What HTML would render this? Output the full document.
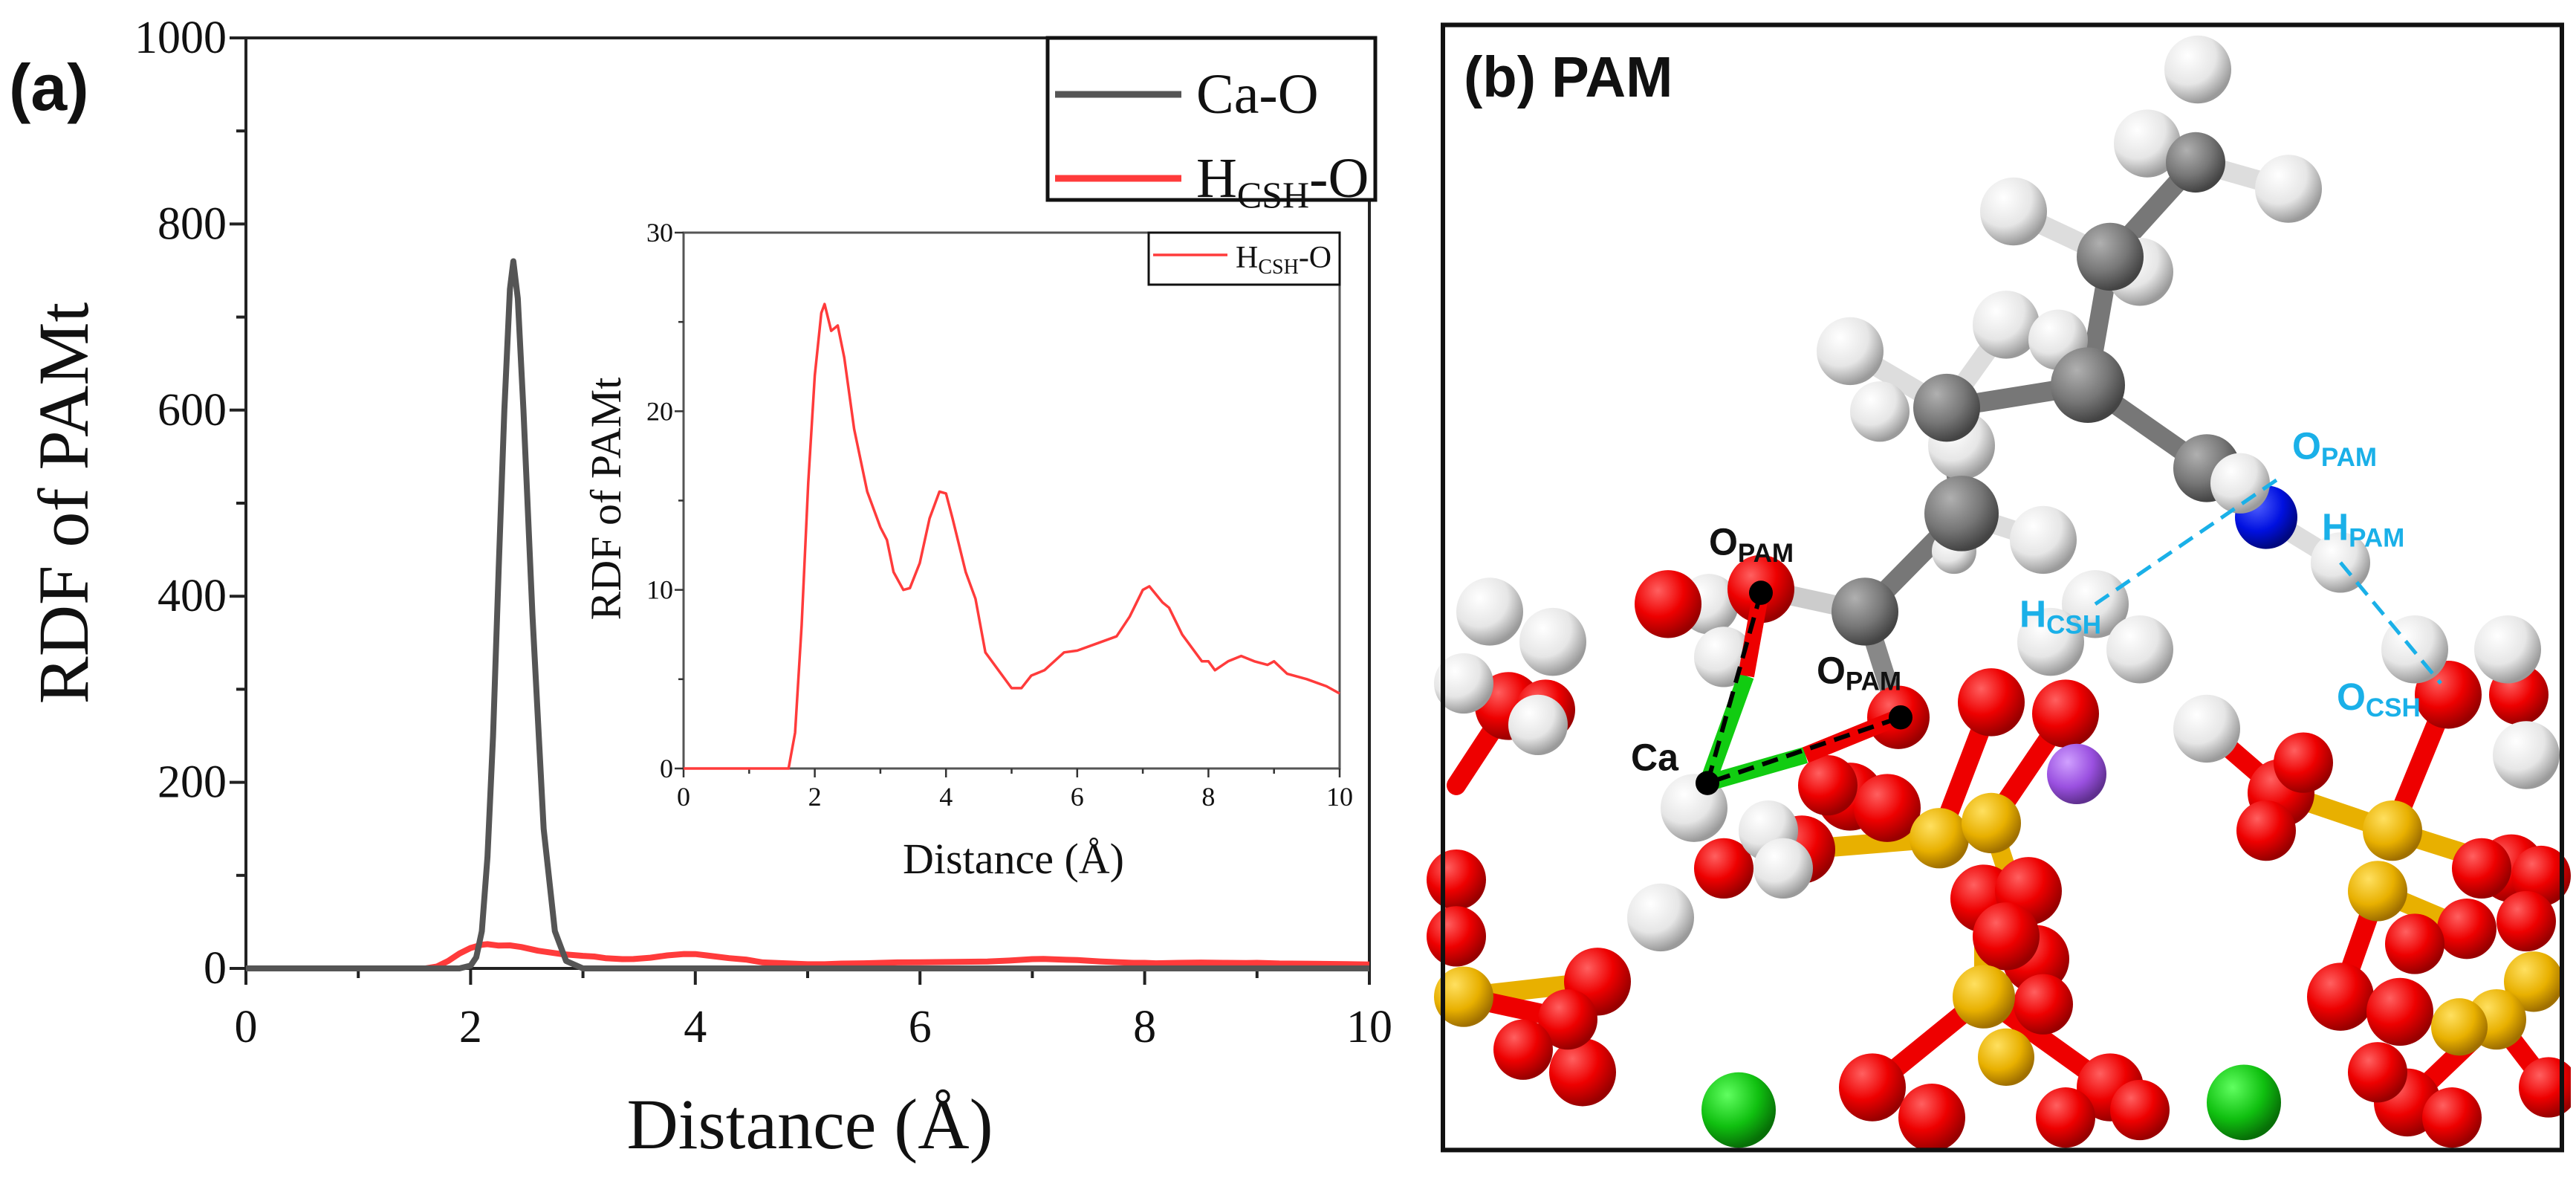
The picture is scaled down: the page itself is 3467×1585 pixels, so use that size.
<!DOCTYPE html>
<html><head><meta charset="utf-8"><style>
html,body{margin:0;padding:0;background:#fff}
svg{display:block}
.t{font-family:"Liberation Serif",serif;fill:#111}
.s{font-family:"Liberation Sans",sans-serif;font-weight:bold}
</style></head><body>
<svg id="fig" width="3467" height="1585" viewBox="0 0 3467 1585" xmlns="http://www.w3.org/2000/svg">
<defs>
<radialGradient id="gH" cx="35%" cy="30%" r="70%"><stop offset="0" stop-color="#ffffff"/><stop offset="0.6" stop-color="#e6e6e6"/><stop offset="1" stop-color="#9a9a9a"/></radialGradient>
<radialGradient id="gC" cx="35%" cy="30%" r="70%"><stop offset="0" stop-color="#b0b0b0"/><stop offset="0.6" stop-color="#777"/><stop offset="1" stop-color="#444"/></radialGradient>
<radialGradient id="gO" cx="35%" cy="30%" r="70%"><stop offset="0" stop-color="#ff6060"/><stop offset="0.55" stop-color="#ee0000"/><stop offset="1" stop-color="#990000"/></radialGradient>
<radialGradient id="gS" cx="35%" cy="30%" r="70%"><stop offset="0" stop-color="#ffe060"/><stop offset="0.6" stop-color="#e8b000"/><stop offset="1" stop-color="#a07000"/></radialGradient>
<radialGradient id="gG" cx="35%" cy="30%" r="70%"><stop offset="0" stop-color="#60ff60"/><stop offset="0.6" stop-color="#10c010"/><stop offset="1" stop-color="#077007"/></radialGradient>
<radialGradient id="gN" cx="35%" cy="30%" r="70%"><stop offset="0" stop-color="#5060ff"/><stop offset="0.6" stop-color="#0010e0"/><stop offset="1" stop-color="#000880"/></radialGradient>
<radialGradient id="gP" cx="35%" cy="30%" r="70%"><stop offset="0" stop-color="#d0a0ff"/><stop offset="0.6" stop-color="#9a50e0"/><stop offset="1" stop-color="#603090"/></radialGradient>
</defs>
<g id="chartA"></g>
<g id="panelB" transform="translate(1900,0) scale(1,1.016)"></g>
</svg>
<script>
// ---------- data ----------
const hX = [0,1.6,1.7,1.8,1.9,2.0,2.1,2.15,2.25,2.35,2.45,2.6,2.8,3.0,3.1,3.2,3.35,3.45,3.6,3.75,3.9,4.0,4.1,4.3,4.45,4.6,4.8,5.0,5.15,5.3,5.5,5.8,6.0,6.3,6.6,6.8,7.0,7.1,7.3,7.4,7.6,7.9,8.0,8.1,8.3,8.5,8.7,8.9,9.0,9.2,9.5,9.8,10];
const hY = [0,0,2,8,16,22,25.5,26,24.5,24.8,23,19,15.5,13.5,12.8,11,10,10.1,11.5,14,15.5,15.4,14,11,9.5,6.5,5.5,4.5,4.5,5.2,5.5,6.5,6.6,7,7.4,8.5,10,10.2,9.3,9,7.5,6,6,5.5,6,6.3,6,5.8,6,5.3,5,4.6,4.2];
const caX = [0,1.9,2.0,2.05,2.1,2.15,2.2,2.25,2.3,2.35,2.38,2.42,2.47,2.55,2.65,2.75,2.85,3.0,10];
const caY = [0,0,3,12,40,120,250,430,600,730,760,720,600,380,150,40,8,0,0];
const mainYTicks = [0,200,400,600,800,1000];
const mainXTicks = [0,2,4,6,8,10];
const insetYTicks = [0,10,20,30];
const insetXTicks = [0,2,4,6,8,10];

const NS="http://www.w3.org/2000/svg";
function mk(parent,tag,attrs,text){const e=document.createElementNS(NS,tag);for(const k in attrs)e.setAttribute(k,attrs[k]);if(text!==undefined)e.textContent=text;parent.appendChild(e);return e;}
const A=document.getElementById('chartA');

const M={x0:331,x1:1843,y0:1303,y1:51,xmax:10,ymax:1000};
const mx=v=>M.x0+(v/M.xmax)*(M.x1-M.x0);
const my=v=>M.y0-(v/M.ymax)*(M.y0-M.y1);
let fr=mk(A,'rect',{x:M.x0,y:M.y1,width:M.x1-M.x0,height:M.y0-M.y1,fill:'none',stroke:'#222','stroke-width':4});

for(let v=0;v<=1000;v+=100){const major=v%200===0;let t=mk(A,'line',{x1:M.x0,x2:M.x0-(major?22:13),y1:my(v),y2:my(v),stroke:'#222','stroke-width':4});
}
mainYTicks.forEach(v=>{let t=mk(A,'text',{x:M.x0-26,y:my(v)+20,'font-size':62,'text-anchor':'end',class:'t'},String(v));
});
for(let v=0;v<=10;v+=1){const major=v%2===0;let t=mk(A,'line',{x1:mx(v),x2:mx(v),y1:M.y0,y2:M.y0+(major?22:13),stroke:'#222','stroke-width':4});
}
mainXTicks.forEach(v=>{let t=mk(A,'text',{x:mx(v),y:1402,'font-size':62,'text-anchor':'middle',class:'t'},String(v));
});
let xt=mk(A,'text',{x:1090,y:1545,'font-size':96,'text-anchor':'middle',class:'t'},'Distance (Å)');

let yt=mk(A,'text',{x:0,y:0,'font-size':96,'text-anchor':'middle',class:'t',transform:'translate(118,677) rotate(-90)'},'RDF of PAMt');

let pl=mk(A,'text',{x:12,y:148,'font-size':88,class:'s',fill:'#111'},'(a)');


function path(xs,ys,fx,fy){return xs.map((x,i)=>(i?'L':'M')+fx(x).toFixed(1)+','+fy(ys[i]).toFixed(1)).join(' ');}
let hl=mk(A,'path',{d:path(hX,hY,mx,my),fill:'none',stroke:'#ff3b3b','stroke-width':8,'stroke-linejoin':'round'});

let cl=mk(A,'path',{d:path(caX,caY,mx,my),fill:'none',stroke:'#555','stroke-width':8,'stroke-linejoin':'round'});


let lg=mk(A,'g',{});
mk(lg,'rect',{x:1410,y:51,width:441,height:218,fill:'#fff',stroke:'#111','stroke-width':5});
let l1=mk(lg,'line',{x1:1420,x2:1590,y1:127,y2:127,stroke:'#555','stroke-width':9});

mk(lg,'text',{x:1610,y:152,'font-size':76,class:'t'},'Ca-O');
let l2=mk(lg,'line',{x1:1420,x2:1590,y1:240,y2:240,stroke:'#ff3b3b','stroke-width':9});

let lt=mk(lg,'text',{x:1610,y:265,'font-size':76,class:'t'});
mk(lt,'tspan',{},'H');mk(lt,'tspan',{'font-size':50,dy:14},'CSH');mk(lt,'tspan',{dy:-14},'-O');

const I={x0:920,x1:1803,y0:1034,y1:313,xmax:10,ymax:30};
const ix=v=>I.x0+(v/I.xmax)*(I.x1-I.x0);
const iy=v=>I.y0-(v/I.ymax)*(I.y0-I.y1);
let ig=mk(A,'g',{});
mk(ig,'rect',{x:I.x0,y:I.y1,width:I.x1-I.x0,height:I.y0-I.y1,fill:'#fff',stroke:'#555','stroke-width':3});
for(let v=0;v<=30;v+=5){const major=v%10===0;mk(ig,'line',{x1:I.x0,x2:I.x0-(major?12:7),y1:iy(v),y2:iy(v),stroke:'#333','stroke-width':2.5});}
insetYTicks.forEach(v=>{let t=mk(ig,'text',{x:I.x0-14,y:iy(v)+12,'font-size':36,'text-anchor':'end',class:'t'},String(v));
});
for(let v=0;v<=10;v+=1){const major=v%2===0;mk(ig,'line',{x1:ix(v),x2:ix(v),y1:I.y0,y2:I.y0+(major?12:7),stroke:'#333','stroke-width':2.5});}
insetXTicks.forEach(v=>{let t=mk(ig,'text',{x:ix(v),y:I.y0+50,'font-size':36,'text-anchor':'middle',class:'t'},String(v));
});
let ixt=mk(ig,'text',{x:1364,y:1175,'font-size':58,'text-anchor':'middle',class:'t'},'Distance (Å)');

let iyt=mk(ig,'text',{x:0,y:0,'font-size':58,'text-anchor':'middle',class:'t',transform:'translate(835,671) rotate(-90)'},'RDF of PAMt');

let il=mk(ig,'path',{d:path(hX,hY,ix,iy),fill:'none',stroke:'#ff3b3b','stroke-width':3.5,'stroke-linejoin':'round'});

let ilg=mk(ig,'g',{});
mk(ilg,'rect',{x:1546,y:313,width:257,height:70,fill:'#fff',stroke:'#111','stroke-width':3});
mk(ilg,'line',{x1:1552,x2:1652,y1:343,y2:343,stroke:'#ff3b3b','stroke-width':3.5});
let ilt=mk(ilg,'text',{x:1663,y:360,'font-size':42,class:'t'});
mk(ilt,'tspan',{},'H');mk(ilt,'tspan',{'font-size':28,dy:8},'CSH');mk(ilt,'tspan',{dy:-8},'-O');

// ---------- panel b ----------
const B=document.getElementById('panelB');
const bonds=[
 [1055,215,940,340,'#777'],[940,340,910,510,'#777'],[910,510,720,540,'#777'],[910,510,1070,620,'#777'],[720,540,740,680,'#777'],[740,680,610,810,'#777'],
 [1055,215,1180,250,'#ddd'],[1055,215,990,190,'#ddd'],[940,340,810,280,'#ddd'],[940,340,980,360,'#ddd'],[720,540,590,465,'#ddd'],[720,540,800,430,'#ddd'],[740,680,850,715,'#ddd'],
 [1070,620,1150,685,'#0010e0'],[1150,685,1250,745,'#ddd'],[610,810,470,780,'#ccc'],[610,810,655,950,'#888'],
 [710,1110,590,1055,'#e00'],[710,1110,780,930,'#e00'],[780,1090,880,945,'#e00'],[710,1110,525,1125,'#e8b000'],[770,1320,770,1190,'#e8b000'],
 [770,1320,620,1440,'#e00'],[770,1320,940,1440,'#e00'],[1320,1100,1395,920,'#e00'],[1320,1100,1170,1050,'#e8b000'],[1300,1180,1250,1320,'#e00'],
 [1510,1300,1340,1460,'#e00'],[70,1320,250,1300,'#e8b000'],[70,1320,210,1350,'#e00'],[130,935,60,1040,'#e00'],[1070,965,1170,1050,'#e00'],
 [1320,1100,1480,1150,'#e8b000'],[1300,1180,1420,1230,'#e8b000'],[780,1090,840,1270,'#e8b000'],[1460,1350,1530,1440,'#e00']];
bonds.forEach(b=>{mk(B,'line',{x1:b[0],y1:b[1],x2:b[2],y2:b[3],stroke:b[4],'stroke-width':26,'stroke-linecap':'round'});});
const H=[[1058,92,45],[990,190,45],[1180,250,45],[810,280,45],[980,360,45],[590,465,45],[800,430,45],[870,450,40],[630,545,40],[740,590,45],[850,715,45],[730,730,30],[105,810,45],[190,850,45],[70,905,40],[170,960,40],[400,800,40],[420,870,40],[380,1070,45],[480,1100,40],[335,1215,45],[500,1150,40],[1070,965,45]];
const C=[[1055,215,40],[940,340,45],[910,510,50],[720,540,45],[740,680,50],[1070,620,45],[610,810,45]];
const O=[[130,935,45],[60,1165,40],[180,940,40],[590,1055,45],[525,1125,45],[420,1150,40],[770,1190,45],[830,1180,45],[1170,1050,45],[1150,1100,40],[1250,1320,45],[1330,1340,45],[1480,1150,45],[1520,1160,40],[1420,1230,40],[250,1300,45],[230,1420,45],[210,1350,40],[620,1440,45],[700,1480,45],[940,1440,45],[980,1470,40],[840,1270,45],[1340,1460,45],[1400,1480,40],[1530,1440,40],[640,1070,45],[560,1040,40],[800,1240,45],[850,1330,40],[1200,1010,40],[1440,1150,40],[1350,1250,40],[1500,1220,40],[150,1390,40],[60,1240,40],[880,1480,40],[1300,1420,40],
 [470,780,45],[345,800,45],[655,950,42],[780,930,45],[880,945,45],[1395,920,45],[1490,920,40]];
const S=[[710,1110,40],[780,1090,40],[770,1320,42],[1320,1100,40],[1300,1180,40],[1510,1300,40],[70,1320,40],[1460,1350,40],[1410,1360,38],[800,1400,38]];
const H2=[[1115,640,40],[1250,745,40],[920,800,45],[980,860,45],[860,850,45],[1350,860,45],[1475,860,45],[1500,1000,45]];
function atoms(list,fill,name){list.forEach(a=>{let c=mk(B,'circle',{cx:a[0],cy:a[1],r:a[2],fill:fill});});}
atoms(O.slice(0,38),'url(#gO)','oxygen-atom');
atoms(S,'url(#gS)','silicon-atom');
atoms(H,'url(#gH)','hydrogen-atom');
atoms(C,'url(#gC)','carbon-atom');
atoms([[1150,685,42]],'url(#gN)','nitrogen-atom');
atoms(O.slice(38),'url(#gO)','oxygen-atom');
atoms(H2,'url(#gH)','hydrogen-atom');
atoms([[440,1470,50],[1120,1460,50]],'url(#gG)','calcium-atom');
atoms([[895,1025,40]],'url(#gP)','sodium-atom');
mk(B,'line',{x1:398,y1:1037,x2:450,y2:895,stroke:'#1c1','stroke-width':22});
mk(B,'line',{x1:398,y1:1037,x2:530,y2:1000,stroke:'#1c1','stroke-width':22});
mk(B,'line',{x1:450,y1:895,x2:470,y2:785,stroke:'#e00','stroke-width':22});
mk(B,'line',{x1:530,y1:1000,x2:655,y2:950,stroke:'#e00','stroke-width':22});
mk(B,'path',{d:'M470,785 L398,1037 L658,950',fill:'none',stroke:'#000','stroke-width':6,'stroke-dasharray':'22,12'});
[[470,785],[398,1037],[658,950]].forEach(p=>mk(B,'circle',{cx:p[0],cy:p[1],r:16,fill:'#000'}));
mk(B,'line',{x1:920,y1:800,x2:1165,y2:635,stroke:'#1ab0e8','stroke-width':5,'stroke-dasharray':'22,12'});
mk(B,'line',{x1:1250,y1:745,x2:1385,y2:905,stroke:'#1ab0e8','stroke-width':5,'stroke-dasharray':'22,12'});
mk(B,'rect',{x:1560,y:0,width:20,height:1560,fill:'#fff'});
mk(B,'rect',{x:0,y:1525,width:1580,height:40,fill:'#fff'});
let bf=mk(B,'rect',{x:42,y:33,width:1506,height:1490,fill:'none',stroke:'#111','stroke-width':6});

function lab(x,y,main,sub,col,size,name){let t=mk(B,'text',{x:x,y:y,'font-size':size,class:'s',fill:col});mk(t,'tspan',{},main);mk(t,'tspan',{'font-size':size*0.7,dy:size*0.18},sub);
}
let pb=mk(B,'text',{x:70,y:128,'font-size':76,class:'s',fill:'#111'},'(b) PAM');

lab(400,735,'O','PAM','#111',50,'label-o-pam-1');
lab(545,905,'O','PAM','#111',50,'label-o-pam-2');
lab(295,1020,'Ca','','#111',50,'label-ca');
lab(1185,608,'O','PAM','#1ab0e8',50,'label-o-pam-cyan');
lab(1225,715,'H','PAM','#1ab0e8',50,'label-h-pam');
lab(818,830,'H','CSH','#1ab0e8',50,'label-h-csh');
lab(1245,940,'O','CSH','#1ab0e8',50,'label-o-csh');
</script>
</body></html>
